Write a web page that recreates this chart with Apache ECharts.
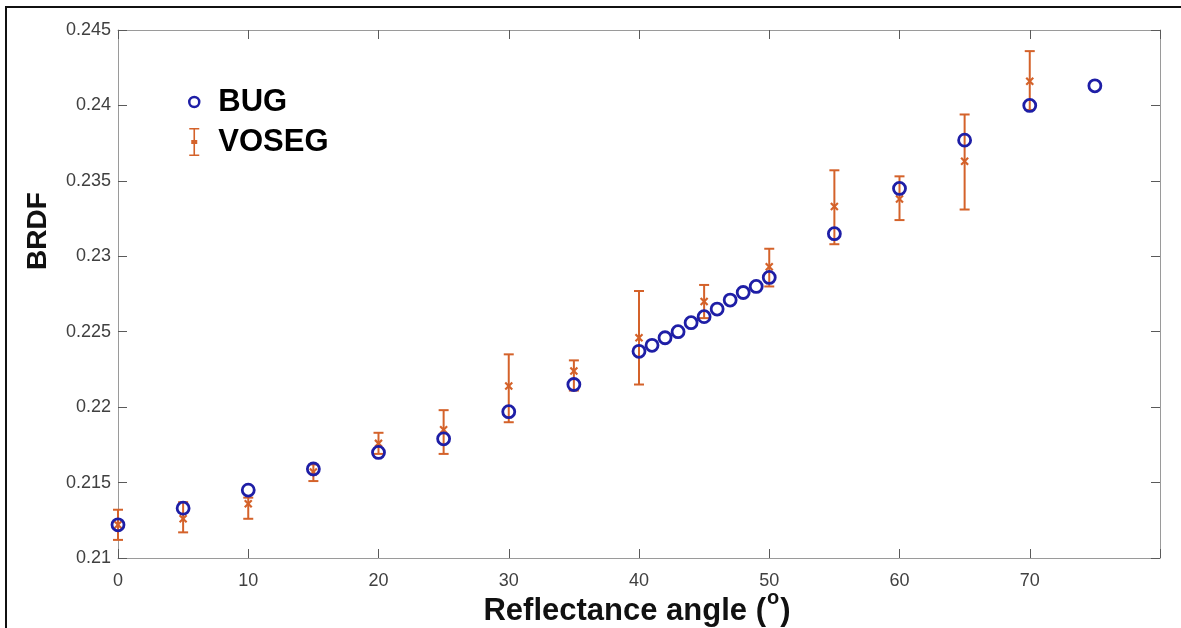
<!DOCTYPE html>
<html>
<head>
<meta charset="utf-8">
<title>BRDF vs reflectance angle</title>
<script src="https://cdn.jsdelivr.net/npm/echarts@6/dist/echarts.min.js"></script>
<style>
  html, body { margin: 0; padding: 0; background: #fff; }
  #chart { width: 1181px; height: 628px; }
</style>
</head>
<body>
<div id="chart"></div>
<script>
// BUG model: reflectance angle (deg) and BRDF
const bugAngles = [0, 5, 10, 15, 20, 25, 30, 35, 40, 41, 42, 43, 44, 45, 46, 47, 48, 49, 50, 55, 60, 65, 70, 75];
const bugBRDF   = [0.2122, 0.2133, 0.2145, 0.2159, 0.2170, 0.2179, 0.2197, 0.2215, 0.2237, 0.2241, 0.2246, 0.2250,
                   0.2256, 0.2260, 0.2265, 0.2271, 0.2276, 0.2280, 0.2286, 0.2315, 0.2345, 0.2377, 0.2400, 0.2413];

// VOSEG measurements: mean with lower / upper error limits
const vosegAngles = [0, 5, 10, 15, 20, 25, 30, 35, 40, 45, 50, 55, 60, 65, 70];
const vosegMean   = [0.2122, 0.2126, 0.2136, 0.2157, 0.2176, 0.2185, 0.2214, 0.2224, 0.2246, 0.2270, 0.2293, 0.2333, 0.2338, 0.2363, 0.2416];
const vosegLower  = [0.2112, 0.2117, 0.2126, 0.2151, 0.2169, 0.2169, 0.2190, 0.2211, 0.2215, 0.2259, 0.2280, 0.2308, 0.2324, 0.2331, 0.2397];
const vosegUpper  = [0.2132, 0.2137, 0.2140, 0.2162, 0.2183, 0.2198, 0.2235, 0.2231, 0.2277, 0.2281, 0.2305, 0.2357, 0.2353, 0.2394, 0.2436];

// Axis ranges and ticks
const xMin = 0, xMax = 80, xStep = 10;
const yMin = 0.21, yMax = 0.245, yStep = 0.005;

const BLUE = '#1e1ea6';
const ORANGE = '#d4622a';
const FONT = '"Liberation Sans", Arial, sans-serif';

const bugData = bugAngles.map((a, i) => [a, bugBRDF[i]]);
const vosegData = vosegAngles.map((a, i) => [a, vosegMean[i], vosegLower[i], vosegUpper[i]]);

// Vertical error bar with end caps and an "x" at the mean
function renderErrorBar(params, api) {
  const x = api.value(0);
  const mid = api.coord([x, api.value(1)]);
  const lo = api.coord([x, api.value(2)]);
  const hi = api.coord([x, api.value(3)]);
  const cap = 5, m = 3.5;
  const style = { stroke: ORANGE, lineWidth: 2, fill: null };
  return {
    type: 'group',
    children: [
      { type: 'line', shape: { x1: lo[0], y1: lo[1], x2: hi[0], y2: hi[1] }, style },
      { type: 'line', shape: { x1: hi[0] - cap, y1: hi[1], x2: hi[0] + cap, y2: hi[1] }, style },
      { type: 'line', shape: { x1: lo[0] - cap, y1: lo[1], x2: lo[0] + cap, y2: lo[1] }, style },
      { type: 'line', shape: { x1: mid[0] - m, y1: mid[1] - m, x2: mid[0] + m, y2: mid[1] + m }, style: { stroke: ORANGE, lineWidth: 2.2 } },
      { type: 'line', shape: { x1: mid[0] - m, y1: mid[1] + m, x2: mid[0] + m, y2: mid[1] - m }, style: { stroke: ORANGE, lineWidth: 2.2 } }
    ]
  };
}

const fmtY = v => String(parseFloat(v.toFixed(3)));
const fmtX = v => (v === xMax ? '' : String(v));

// Box frame: every side keeps its own position and inward ticks
const axisLineStyle = () => ({ show: true, onZero: false, lineStyle: { color: '#9a9a9a', width: 1 } });
const tickStyle = () => ({ show: true, inside: true, length: 9, lineStyle: { color: '#5a5a5a', width: 1 } });

const chart = echarts.init(document.getElementById('chart'), null, { renderer: 'canvas' });

chart.setOption({
  backgroundColor: '#ffffff',
  animation: false,
  grid: { left: 118, right: 21, top: 30, bottom: 70, containLabel: false },
  xAxis: [
    {
      type: 'value', min: xMin, max: xMax, interval: xStep, position: 'bottom',
      axisLine: axisLineStyle(), axisTick: tickStyle(), splitLine: { show: false },
      axisLabel: { formatter: fmtX, color: '#404040', fontSize: 18, fontFamily: FONT, margin: 14 }
    },
    {
      type: 'value', min: xMin, max: xMax, interval: xStep, position: 'top',
      axisLine: axisLineStyle(), axisTick: tickStyle(), splitLine: { show: false }, axisLabel: { show: false }
    }
  ],
  yAxis: [
    {
      type: 'value', min: yMin, max: yMax, interval: yStep, position: 'left',
      axisLine: axisLineStyle(), axisTick: tickStyle(), splitLine: { show: false },
      axisLabel: { formatter: fmtY, color: '#404040', fontSize: 18, fontFamily: FONT, margin: 7 }
    },
    {
      type: 'value', min: yMin, max: yMax, interval: yStep, position: 'right',
      axisLine: axisLineStyle(), axisTick: tickStyle(), splitLine: { show: false }, axisLabel: { show: false }
    }
  ],
  legend: {
    orient: 'vertical',
    left: 183, top: 81,
    itemWidth: 10, itemHeight: 28,
    itemGap: 8,
    textStyle: { fontSize: 31, fontWeight: 'bold', color: '#000', fontFamily: FONT, lineHeight: 32, padding: [0, 0, 0, 14] },
    data: [
      { name: 'BUG', icon: 'circle', itemStyle: { color: 'transparent', borderColor: BLUE, borderWidth: 2.5 } },
      { name: 'VOSEG', icon: 'path://M0,0H10V1.6H5.8V12H8V16H5.8V26.4H10V28H0V26.4H4.2V16H2V12H4.2V1.6H0Z', itemStyle: { color: ORANGE, borderWidth: 0 } }
    ]
  },
  graphic: [
    {
      type: 'polyline', silent: true,
      shape: { points: [[6, 628], [6, 7], [1181, 7]] },
      style: { stroke: '#111', lineWidth: 2, fill: null }
    },
    {
      type: 'text', silent: true, x: 38, y: 231, rotation: Math.PI / 2,
      style: { text: 'BRDF', font: 'bold 28px ' + FONT, fill: '#111', align: 'center', verticalAlign: 'middle' }
    },
    {
      type: 'text', silent: true, x: 637, y: 611,
      style: {
        text: '{a|Reflectance angle (}{s|o}{a|)}',
        align: 'center', verticalAlign: 'middle',
        rich: {
          a: { font: 'bold 31px ' + FONT, fill: '#111', lineHeight: 46 },
          s: { font: 'bold 20px ' + FONT, fill: '#111', verticalAlign: 'top', lineHeight: 20, padding: [0, 1, 0, 1] }
        }
      }
    }
  ],
  series: [
    {
      name: 'VOSEG', type: 'custom', xAxisIndex: 0, yAxisIndex: 0,
      renderItem: renderErrorBar,
      itemStyle: { color: ORANGE },
      encode: { x: 0, y: [1, 2, 3] },
      data: vosegData, z: 2
    },
    {
      name: 'BUG', type: 'scatter', xAxisIndex: 0, yAxisIndex: 0,
      symbol: 'circle', symbolSize: 12,
      itemStyle: { color: 'transparent', borderColor: BLUE, borderWidth: 2.8, opacity: 1 },
      data: bugData, z: 3
    }
  ]
});
</script>
</body>
</html>
